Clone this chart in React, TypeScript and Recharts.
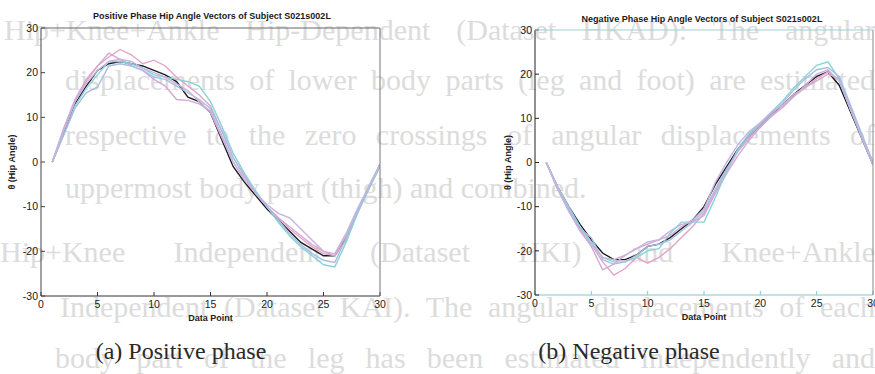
import { Label, Line, LineChart, XAxis, YAxis } from "recharts";

const dataPoints = [1, 2, 3, 4, 5, 6, 7, 8, 9, 10, 11, 12, 13, 14, 15, 16, 17, 18, 19, 20, 21, 22, 23, 24, 25, 26, 27, 28, 29, 30];
const xTicks = [0, 5, 10, 15, 20, 25, 30];
const yTicks = [-30, -20, -10, 0, 10, 20, 30];

// positive phase vectors
const posBlack = [0, 6.5, 13, 17, 20.5, 22, 22.5, 22, 21.5, 20.5, 19.5, 18, 14.5, 13.5, 11, 5, -1, -4.5, -7.5, -10.5, -13, -15.5, -18, -19.5, -21, -21, -17, -11, -6, -0.5];
const posPink = [0, 7, 13.5, 18, 21.5, 23.5, 25.2, 24, 22, 22.8, 21.5, 19, 17, 15, 12.5, 7, 1, -3, -7, -10, -12.5, -15, -17, -19, -20.5, -21, -16.5, -11, -6, -1];
const posMauve = [0, 7.5, 14, 18.5, 21.5, 24.4, 23, 21.5, 20.5, 18.5, 17, 14, 13.8, 13, 11.5, 6, 0, -4, -7, -10, -12.5, -14.5, -16.5, -18.5, -20, -21, -17.5, -11.5, -6, -1];
const posCyan = [0, 6, 12.5, 16.5, 19.5, 22.5, 22.5, 22, 21, 19.5, 19, 18.5, 18, 17, 13.5, 8, 2, -2.5, -6.5, -10, -13.5, -16.5, -19, -21, -23, -23.5, -18, -11.5, -6, -1];
const posBlue = [0, 6, 12, 15.5, 16.8, 21.5, 22, 21.5, 20.5, 19, 18.5, 17, 15.5, 14, 12, 7, 1, -3, -7, -10, -13, -16, -18.5, -20.5, -22, -22.5, -17, -11, -5.5, -0.5];
const posLavender = [0, 7, 13.5, 17.5, 20.5, 22.5, 23, 22.5, 21, 20, 19, 17.5, 16, 13.5, 11, 5.5, 0, -3.5, -7, -9.5, -11.5, -12.5, -15, -17.5, -20, -20.5, -16, -10.5, -5.5, -0.5];

// negative phase vectors
const negBlack = [0, -5.5, -10, -14, -17.5, -20.5, -22, -22, -21, -19, -18.5, -17, -15, -13, -10, -5, -1, 3, 6, 8.5, 11, 13, 15.5, 17.5, 19.5, 20.5, 17.5, 11.5, 5.5, -0.5];
const negPink = [0, -5.5, -10.5, -15, -18.5, -22.5, -25.5, -24, -21.5, -22.8, -21.5, -19.5, -17, -14.5, -11.5, -6.5, -2, 2.5, 5.5, 8, 10.5, 12.5, 15, 17, 19, 20.5, 18.5, 12, 6, 0];
const negMauve = [0, -6, -11, -15.5, -19, -24.3, -23, -21, -19.5, -18.5, -17.5, -15.5, -14, -13.5, -12, -7, -2.5, 1.5, 5, 8, 10.5, 13, 15.5, 17, 18.5, 20, 19, 12.5, 6, 0];
const negCyan = [0, -5.5, -10, -14.5, -18, -21.5, -22.5, -22.5, -21.5, -20, -19.5, -16, -13.5, -13.5, -13.5, -8, -2, 3, 6.5, 9, 11.5, 14, 17, 19.5, 22, 22.8, 19, 12, 6, -0.5];
const negBlue = [0, -5.5, -10.5, -15, -17, -22, -23, -22.5, -21, -19, -18.5, -17.5, -15.5, -13.5, -11, -6, -1.5, 2.5, 6, 8.5, 11, 13.5, 16.5, 19, 21, 21.5, 19.5, 13, 6.5, 0];
const negLavender = [0, -6, -11, -15.5, -18.5, -21.5, -22, -21, -19.5, -18, -17.5, -16.5, -14.5, -13, -10.5, -4.5, 0, 4, 7, 9, 11.5, 13, 15, 17.5, 20, 21, 18.5, 12, 5.5, -0.5];

const seriesColors = ["#1c1c1c", "#e3a3c8", "#d2a9d3", "#86d3d6", "#a9bde3", "#c7b3de"];

// faint page text showing through the scan
const ghostLines = [
  "Hip+Knee+Ankle Hip-Dependent (Dataset HKAD): The angular",
  "displacements of lower body parts (leg and foot) are estimated",
  "respective to the zero crossings of angular displacements of",
  "uppermost body part (thigh) and combined.",
  "Hip+Knee Independent (Dataset HKI) and Knee+Ankle",
  "Independent (Dataset KAI). The angular displacements of each",
  "body part of the leg has been estimated independently and",
];

const font = "'Liberation Sans', Arial, sans-serif";
const serif = "'Liberation Serif', 'Times New Roman', serif";

function toRows(series: number[][]) {
  return dataPoints.map((p, i) => {
    const row: Record<string, number> = { p };
    series.forEach((s, k) => (row["s" + k] = s[i]));
    return row;
  });
}

type Frame = { left: string; bottom: string; top: string; right: string };

function PhaseChart({
  series,
  width,
  height,
  marginTop,
  marginRight,
  yLabelOffset,
  frame,
}: {
  series: number[][];
  width: number;
  height: number;
  marginTop: number;
  marginRight: number;
  yLabelOffset: number;
  frame: Frame;
}) {
  const rows = toRows(series);
  const tick = { fontSize: 10.5, fill: "#1a1a1a", fontFamily: font };
  return (
    <LineChart width={width} height={height} data={rows} margin={{ top: marginTop, right: marginRight, bottom: 0, left: 0 }}>
      <XAxis
        dataKey="p"
        type="number"
        domain={[0, 30]}
        ticks={xTicks}
        interval={0}
        allowDataOverflow
        height={34}
        tickSize={-4}
        tickMargin={9}
        stroke={frame.bottom}
        tick={tick}
      >
        <Label value="Data Point" position="insideBottom" offset={9} style={{ fontSize: 9, fontWeight: 700, fill: "#222", fontFamily: font }} />
      </XAxis>
      <YAxis
        type="number"
        domain={[-30, 30]}
        ticks={yTicks}
        interval={0}
        allowDataOverflow
        width={41}
        tickSize={-4}
        tickMargin={7}
        stroke={frame.left}
        tick={tick}
      >
        <Label
          value="θ (Hip Angle)"
          angle={-90}
          position="insideLeft"
          offset={yLabelOffset}
          textAnchor="middle"
          style={{ fontSize: 9, fontWeight: 700, fill: "#222", fontFamily: font }}
        />
      </YAxis>
      <XAxis xAxisId="top" orientation="top" type="number" domain={[0, 30]} ticks={xTicks} interval={0} allowDataOverflow height={1} tick={false} tickSize={-4} stroke={frame.top} />
      <YAxis yAxisId="right" orientation="right" type="number" domain={[-30, 30]} ticks={yTicks} interval={0} allowDataOverflow width={1} tick={false} tickSize={-4} stroke={frame.right} />
      {series.map((_, k) => (
        <Line key={k} dataKey={"s" + k} stroke={seriesColors[k]} strokeWidth={1.4} dot={false} type="linear" isAnimationActive={false} />
      ))}
    </LineChart>
  );
}

export default function App() {
  const ghostTops = [30, 80, 135, 188, 252, 307, 358];
  const ghostLeft = [4, 65, 65, 65, 0, 60, 55];
  return (
    <div style={{ position: "absolute", left: 0, top: 0, width: 875, height: 374, background: "#fff", overflow: "hidden" }}>
      {ghostLines.map((t, i) => (
        <div
          key={i}
          style={{
            position: "absolute",
            left: ghostLeft[i],
            top: ghostTops[i] - 17,
            width: i === 3 ? undefined : 875 - ghostLeft[i],
            height: 34,
            lineHeight: "34px",
            fontFamily: serif,
            fontSize: 30,
            color: "#dcdcdc",
            whiteSpace: "nowrap",
            overflow: "hidden",
            textAlign: i === 3 ? "left" : "justify",
            textAlignLast: i === 3 ? "left" : "justify",
          }}
        >
          {t}
        </div>
      ))}
      <div style={{ position: "absolute", left: 0, top: 0 }}>
        <PhaseChart
          series={[posBlack, posPink, posMauve, posCyan, posBlue, posLavender]}
          width={390}
          height={330}
          marginTop={27}
          marginRight={9}
          yLabelOffset={12}
          frame={{ left: "#444", bottom: "#333", top: "#666", right: "#777" }}
        />
      </div>
      <div style={{ position: "absolute", left: 494, top: 0 }}>
        <PhaseChart
          series={[negBlack, negPink, negMauve, negCyan, negBlue, negLavender]}
          width={381}
          height={329}
          marginTop={29}
          marginRight={1}
          yLabelOffset={14}
          frame={{ left: "#222", bottom: "#7cc9cc", top: "#9dd0d2", right: "#888" }}
        />
      </div>
      <div style={{ position: "absolute", left: 212, top: 11, transform: "translateX(-50%)", whiteSpace: "nowrap", fontFamily: font, fontSize: 9, fontWeight: 700, color: "#1a1a1a" }}>
        Positive Phase Hip Angle Vectors of Subject S021s002L
      </div>
      <div style={{ position: "absolute", left: 702, top: 14, transform: "translateX(-50%)", whiteSpace: "nowrap", fontFamily: font, fontSize: 9, fontWeight: 700, color: "#1a1a1a" }}>
        Negative Phase Hip Angle Vectors of Subject S021s002L
      </div>
      <div style={{ position: "absolute", left: 181, top: 338, transform: "translateX(-50%)", whiteSpace: "nowrap", fontFamily: serif, fontSize: 24, color: "#2a2a2a" }}>
        (a) Positive phase
      </div>
      <div style={{ position: "absolute", left: 629, top: 338, transform: "translateX(-50%)", whiteSpace: "nowrap", fontFamily: serif, fontSize: 24, color: "#2a2a2a" }}>
        (b) Negative phase
      </div>
    </div>
  );
}
